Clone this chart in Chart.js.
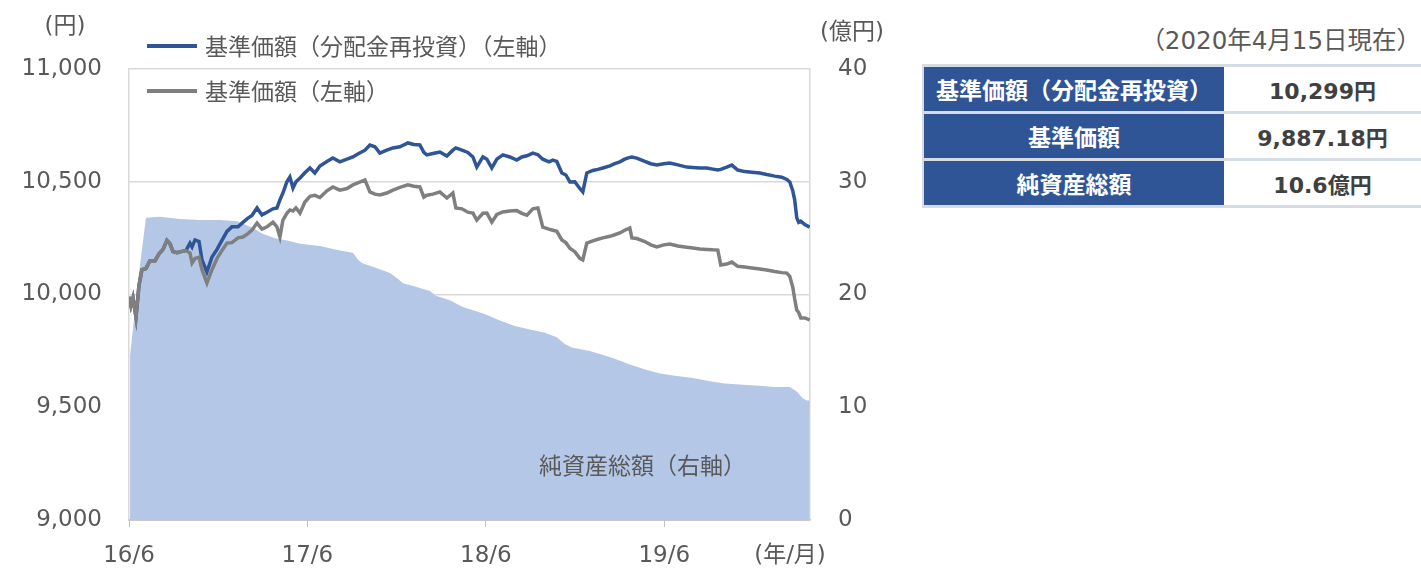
<!DOCTYPE html>
<html lang="ja">
<head>
<meta charset="UTF-8">
<title>基準価額・純資産総額の推移</title>
<script src="https://cdn.jsdelivr.net/npm/chart.js"></script>
<style>
    body {
        margin: 0;
        width: 1421px;
        height: 571px;
        overflow: hidden;
        background: #fff;
        font-family: "DejaVu Sans", "Noto Sans CJK JP", sans-serif;
    }
    #chartBox {
        position: absolute;
        left: 0;
        top: 0;
        width: 900px;
        height: 571px;
    }
    #asof {
        position: absolute;
        right: 0;
        top: 21px;
        font-size: 24.5px;
        color: #595959;
        font-family: "DejaVu Sans", "Noto Sans CJK JP", sans-serif;
    }
    #summary {
        position: absolute;
        left: 922px;
        top: 64px;
        width: 499px;
        border-collapse: collapse;
        border-left: 2px solid #D6DCE5;
    }
    #summary td {
        height: 44px;
        padding: 0;
        border-top: 3px solid #D6DCE5;
        border-bottom: 3px solid #D6DCE5;
        text-align: center;
        font-weight: bold;
    }
    #summary td.label {
        width: 300px;
        background: #2F5597;
        color: #fff;
        font-size: 23px;
        font-family: "Noto Sans CJK JP", sans-serif;
    }
    #summary td.value {
        color: #404040;
        font-size: 22px;
        font-family: "DejaVu Sans", "Noto Sans CJK JP", sans-serif;
    }
</style>
</head>
<body>
<div id="chartBox"><canvas id="navChart" width="900" height="571"></canvas></div>
<div id="asof">（2020年4月15日現在）</div>
<table id="summary"></table>
<script>
    // 横軸は 2016年6月からの経過月数
    const tickMonths = [0, 12, 24, 36];
    const tickLabels = ['16/6', '17/6', '18/6', '19/6'];

    // 基準価額（分配金再投資）・基準価額（円）
    const navMonths = [
        0.00, 0.13, 0.27, 0.47, 0.67, 0.87, 1.14, 1.41, 1.75, 2.02,
        2.29, 2.55, 2.76, 2.96, 3.23, 3.50, 3.83, 4.10, 4.24, 4.44,
        4.71, 4.91, 5.24, 5.58, 5.92, 6.25, 6.59, 6.92, 7.33, 7.66,
        8.00, 8.27, 8.61, 8.94, 9.28, 9.68, 9.95, 10.15, 10.35, 10.62,
        10.82, 11.03, 11.23, 11.50, 11.83, 12.17, 12.50, 12.84, 13.31, 13.71,
        14.18, 14.66, 15.06, 15.39, 15.87, 16.20, 16.54, 16.87, 17.34, 17.75,
        18.22, 18.76, 19.16, 19.56, 19.83, 20.03, 20.44, 20.91, 21.38, 21.78,
        21.98, 22.39, 22.79, 23.13, 23.39, 23.80, 24.07, 24.40, 24.74, 25.14,
        25.61, 26.08, 26.42, 26.76, 27.16, 27.50, 27.83, 28.24, 28.50, 28.77,
        29.11, 29.38, 29.65, 29.98, 30.32, 30.52, 30.79, 31.19, 31.53, 31.87,
        32.34, 32.67, 33.01, 33.34, 33.68, 33.82, 34.15, 34.69, 35.09, 35.50,
        35.97, 36.37, 36.91, 37.51, 37.92, 38.39, 38.86, 39.26, 39.60, 39.80,
        40.20, 40.54, 40.94, 41.41, 41.88, 42.42, 42.89, 43.43, 43.90, 44.24,
        44.44, 44.64, 44.77, 44.91, 45.04, 45.18, 45.45, 45.78
    ];
    const navReinvested = [
        9990, 9950, 9985, 9900, 10040, 10110, 10115, 10150, 10150, 10180,
        10200, 10240, 10225, 10190, 10185, 10190, 10195, 10228, 10211, 10242,
        10235, 10153, 10100, 10166, 10200, 10240, 10280, 10300, 10300, 10320,
        10339, 10350, 10384, 10353, 10365, 10380, 10384, 10420, 10450, 10500,
        10521, 10472, 10500, 10517, 10540, 10561, 10539, 10570, 10590, 10605,
        10588, 10600, 10610, 10623, 10640, 10663, 10655, 10627, 10640, 10650,
        10655, 10672, 10665, 10663, 10630, 10619, 10625, 10632, 10614, 10640,
        10650, 10640, 10630, 10610, 10565, 10610, 10600, 10561, 10600, 10619,
        10610, 10596, 10610, 10615, 10627, 10620, 10600, 10588, 10596, 10590,
        10539, 10530, 10499, 10500, 10470, 10455, 10539, 10550, 10555, 10561,
        10570, 10580, 10588, 10600, 10608, 10610, 10605, 10590, 10580, 10574,
        10580, 10583, 10575, 10565, 10563, 10561, 10561, 10556, 10552, 10555,
        10565, 10574, 10552, 10545, 10542, 10539, 10532, 10525, 10520, 10510,
        10499, 10460, 10420, 10340, 10320, 10325, 10310, 10299
    ];
    const navPrice = [
        9990, 9950, 9985, 9900, 10040, 10110, 10115, 10150, 10150, 10180,
        10200, 10240, 10225, 10190, 10185, 10190, 10195, 10184, 10140, 10160,
        10165, 10110, 10051, 10110, 10160, 10195, 10228, 10230, 10251, 10255,
        10270, 10286, 10317, 10290, 10300, 10321, 10300, 10255, 10330, 10360,
        10375, 10370, 10384, 10361, 10410, 10435, 10440, 10430, 10460, 10477,
        10463, 10470, 10486, 10495, 10508, 10455, 10445, 10441, 10450, 10463,
        10475, 10486, 10480, 10477, 10432, 10440, 10445, 10455, 10428, 10450,
        10384, 10380, 10365, 10361, 10330, 10360, 10361, 10321, 10355, 10366,
        10370, 10372, 10360, 10352, 10380, 10384, 10299, 10290, 10285, 10280,
        10242, 10230, 10205, 10190, 10160, 10153, 10228, 10238, 10245, 10251,
        10258, 10265, 10273, 10285, 10295, 10251, 10248, 10235, 10220, 10211,
        10220, 10224, 10215, 10210, 10206, 10202, 10200, 10198, 10197, 10131,
        10135, 10144, 10125, 10122, 10118, 10113, 10109, 10102, 10097, 10095,
        10080, 10033, 9980, 9931, 9920, 9896, 9896, 9887
    ];

    // 純資産総額（億円）
    const aumMonths = [
        0.07, 0.40, 0.74, 1.14, 2.08, 3.43, 4.77, 6.12, 7.26, 7.80,
        8.47, 8.94, 9.82, 10.62, 11.50, 12.84, 14.18, 15.06, 15.39, 15.66,
        16.54, 17.55, 18.08, 18.42, 19.23, 20.24, 20.64, 21.58, 22.45, 23.87,
        24.94, 25.95, 26.96, 27.97, 28.77, 29.31, 29.78, 30.99, 32.00, 32.67,
        33.68, 34.82, 35.70, 36.71, 37.92, 39.06, 40.07, 41.28, 42.42, 43.43,
        44.44, 44.91, 45.31, 45.58, 45.78
    ];
    const aumValues = [
        14.6, 18.6, 22.6, 26.8, 26.9, 26.7, 26.6, 26.6, 26.5, 26.2,
        25.8, 25.4, 25.0, 24.8, 24.5, 24.3, 23.9, 23.7, 23.1, 22.8,
        22.4, 21.9, 21.4, 21.0, 20.7, 20.3, 19.9, 19.5, 18.9, 18.3,
        17.7, 17.2, 16.9, 16.6, 16.2, 15.6, 15.3, 15.0, 14.6, 14.3,
        13.8, 13.3, 13.0, 12.8, 12.6, 12.3, 12.1, 12.0, 11.9, 11.8,
        11.8, 11.4, 10.8, 10.6, 10.6
    ];

    const summaryLabels = ['基準価額（分配金再投資）', '基準価額', '純資産総額'];
    const summaryValues = ['10,299円', '9,887.18円', '10.6億円'];

    // 右側の表
    const table = document.getElementById('summary');
    summaryLabels.forEach((label, i) => {
        const row = table.insertRow();
        const c1 = row.insertCell();
        c1.className = 'label';
        c1.textContent = label;
        const c2 = row.insertCell();
        c2.className = 'value';
        c2.textContent = summaryValues[i];
    });

    const toPoints = (xs, ys) => xs.map((x, i) => ({ x: x, y: ys[i] }));

    const textGray = '#595959';
    const numFont = { family: '"DejaVu Sans", "Noto Sans CJK JP"', size: 23 };

    // 凡例・単位などの文字
    const overlayText = {
        id: 'overlayText',
        afterDraw(chart) {
            const { ctx, chartArea: a } = chart;
            ctx.save();
            ctx.fillStyle = textGray;
            ctx.textBaseline = 'middle';

            ctx.font = '23px "DejaVu Sans", "Noto Sans CJK JP"';
            ctx.textAlign = 'center';
            ctx.fillText('(円)', 65, 27);
            ctx.fillText('(億円)', a.right + 42, 33);
            ctx.fillText('(年/月)', a.right - 20, 556);

            // 凡例
            const legendItems = [
                { text: '基準価額（分配金再投資）（左軸）', color: '#2F5597', y: a.top - 23 },
                { text: '基準価額（左軸）', color: '#7F7F7F', y: a.top + 22 }
            ];
            ctx.textAlign = 'left';
            ctx.font = '23px "Noto Sans CJK JP"';
            legendItems.forEach(item => {
                ctx.strokeStyle = item.color;
                ctx.lineWidth = 4;
                ctx.beginPath();
                ctx.moveTo(a.left + 18, item.y);
                ctx.lineTo(a.left + 68, item.y);
                ctx.stroke();
                ctx.fillText(item.text, a.left + 76, item.y);
            });

            ctx.fillText('純資産総額（右軸）', a.left + 410, a.bottom - 55);
            ctx.restore();
        }
    };

    const ctx = document.getElementById('navChart').getContext('2d');
    new Chart(ctx, {
        type: 'line',
        data: {
            datasets: [
                {
                    label: '基準価額（左軸）',
                    data: toPoints(navMonths, navPrice),
                    borderColor: '#7F7F7F',
                    borderWidth: 3.5,
                    pointRadius: 0,
                    tension: 0,
                    yAxisID: 'y',
                    order: 0
                },
                {
                    label: '基準価額（分配金再投資）（左軸）',
                    data: toPoints(navMonths, navReinvested),
                    borderColor: '#2F5597',
                    borderWidth: 3.5,
                    pointRadius: 0,
                    tension: 0,
                    yAxisID: 'y',
                    order: 1
                },
                {
                    label: '純資産総額（右軸）',
                    data: toPoints(aumMonths, aumValues),
                    borderWidth: 0,
                    backgroundColor: '#B4C7E7',
                    fill: 'origin',
                    pointRadius: 0,
                    tension: 0,
                    yAxisID: 'y1',
                    order: 2
                }
            ]
        },
        options: {
            responsive: false,
            animation: false,
            devicePixelRatio: 1,
            layout: { padding: { top: 69, left: 0, right: 0, bottom: 0 } },
            plugins: {
                legend: { display: false },
                tooltip: { enabled: false }
            },
            scales: {
                x: {
                    type: 'linear',
                    min: 0,
                    max: 45.8,
                    afterBuildTicks: s => { s.ticks = tickMonths.map(v => ({ value: v })); },
                    afterFit: s => { s.height = 51; },
                    ticks: {
                        callback: (v, i) => tickLabels[i],
                        autoSkip: false,
                        maxRotation: 0,
                        padding: 15,
                        color: textGray,
                        font: numFont
                    },
                    grid: { drawOnChartArea: false, tickLength: 7, color: '#BFBFBF' },
                    border: { color: '#A6A6A6', width: 1.5 }
                },
                y: {
                    position: 'left',
                    min: 9000,
                    max: 11000,
                    afterFit: s => { s.width = 129; },
                    ticks: {
                        stepSize: 500,
                        callback: v => v.toLocaleString('en-US'),
                        padding: 27,
                        color: textGray,
                        font: numFont
                    },
                    grid: { color: '#D9D9D9', lineWidth: 1.5, drawTicks: false },
                    border: { color: '#D9D9D9', width: 1.5 }
                },
                y1: {
                    position: 'right',
                    min: 0,
                    max: 40,
                    afterFit: s => { s.width = 90; },
                    ticks: {
                        stepSize: 10,
                        padding: 28,
                        color: textGray,
                        font: numFont
                    },
                    grid: { drawOnChartArea: false, drawTicks: false },
                    border: { color: '#D9D9D9', width: 1.5 }
                }
            }
        },
        plugins: [overlayText]
    });
</script>
</body>
</html>
